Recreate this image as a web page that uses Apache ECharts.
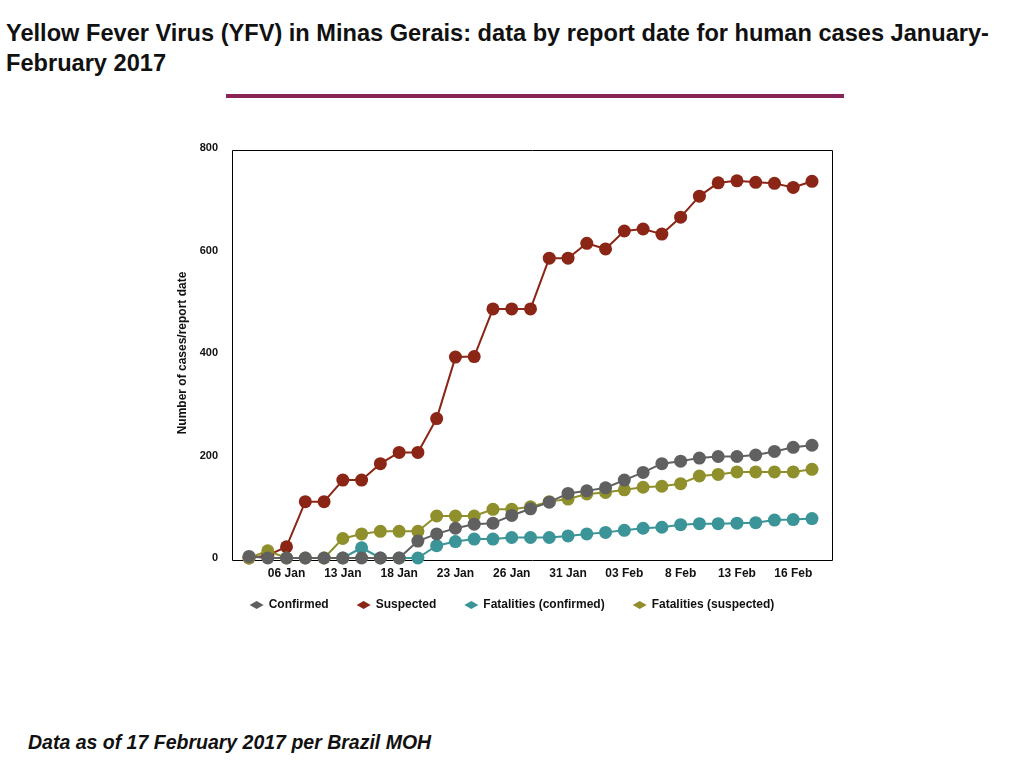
<!DOCTYPE html>
<html><head><meta charset="utf-8">
<script src="https://cdn.jsdelivr.net/npm/echarts@6/dist/echarts.min.js"></script>
<style>body{margin:0;background:#fff;font-family:"Liberation Sans",Arial,sans-serif}</style>
</head><body>
<div style="position:absolute;left:6px;top:18px;width:1018px;font-weight:bold;font-size:23.6px;line-height:30px;color:#111">Yellow Fever Virus (YFV) in Minas Gerais: data by report date for human cases January-February 2017</div>
<div style="position:absolute;left:226px;top:94px;width:618px;height:4px;background:#8a2356"></div>
<div id="chart" style="position:absolute;left:0;top:120px;width:1024px;height:510px"></div>
<div style="position:absolute;left:28px;top:731px;font-weight:bold;font-style:italic;font-size:19.5px;color:#111">Data as of 17 February 2017 per Brazil MOH</div>
<script>
// report dates, labels only every third point
var dates = ["", "", "06 Jan", "", "", "13 Jan", "", "", "18 Jan", "", "", "23 Jan", "", "", "26 Jan", "", "",
  "31 Jan", "", "", "03 Feb", "", "", "8 Feb", "", "", "13 Feb", "", "", "16 Feb", ""];
var confirmed = [3, 0, 0, 0, 0, 0, 0, 0, 0, 33, 47, 58, 66, 68, 83, 96, 109, 126, 131, 137, 152, 167, 184, 189, 195, 198, 198, 201, 208, 216, 220];
var suspected = [0, 5, 22, 110, 110, 152, 152, 184, 206, 206, 272, 392, 393, 486, 486, 486, 585, 585, 614, 603, 638, 642, 632, 665, 706, 732, 736, 733, 731, 723, 735];
var fatalConfirmed = [null, null, null, null, null, 0, 20, 0, 0, 0, 24, 32, 37, 37, 40, 40, 40, 43, 47, 50, 54, 58, 60, 65, 67, 67, 68, 69, 74, 75, 77];
var fatalSuspected = [0, 14, 0, 0, 0, 38, 47, 52, 52, 52, 82, 82, 82, 95, 95, 100, 110, 115, 125, 128, 133, 138, 140, 145, 160, 163, 168, 168, 168, 168, 173];

var chart = echarts.init(document.getElementById("chart"));

function line(name, data, color, z) {
  return {
    name: name, type: "line", data: data, z: z,
    symbol: "circle", symbolSize: 13,
    itemStyle: { color: color },
    lineStyle: { color: color, width: 2 }
  };
}

chart.setOption({
  animation: false,
  grid: { left: 249, top: 28, width: 563, height: 410 },
  graphic: [{
    type: "rect", left: 230, top: 28, silent: true, z: 0,
    shape: { width: 600, height: 410 },
    style: { fill: null, stroke: "#000", lineWidth: 1 }
  }],
  xAxis: {
    type: "category", data: dates, boundaryGap: false,
    axisLine: { show: false },
    axisTick: { show: false },
    axisLabel: { interval: 0, color: "#111", fontWeight: "bold", fontSize: 12, margin: 10 }
  },
  yAxis: {
    type: "value", min: 0, max: 800, interval: 200,
    name: "Number of cases/report date", nameLocation: "middle", nameGap: 58,
    nameTextStyle: { fontWeight: "bold", fontSize: 12, color: "#111" },
    axisLine: { show: false },
    axisTick: { show: false },
    splitLine: { show: false },
    axisLabel: { color: "#111", fontWeight: "bold", fontSize: 11, margin: 31 }
  },
  legend: {
    bottom: 14, left: "center", itemGap: 28, itemWidth: 14, itemHeight: 8, icon: "diamond",
    textStyle: { fontWeight: "bold", fontSize: 12, color: "#111" },
    data: ["Confirmed", "Suspected", "Fatalities (confirmed)", "Fatalities (suspected)"]
  },
  series: [
    line("Suspected", suspected, "#8b2515", 2),
    line("Fatalities (suspected)", fatalSuspected, "#8f8f2c", 2),
    line("Fatalities (confirmed)", fatalConfirmed, "#3b9497", 3),
    line("Confirmed", confirmed, "#606060", 4)
  ]
});
</script>
</body></html>
